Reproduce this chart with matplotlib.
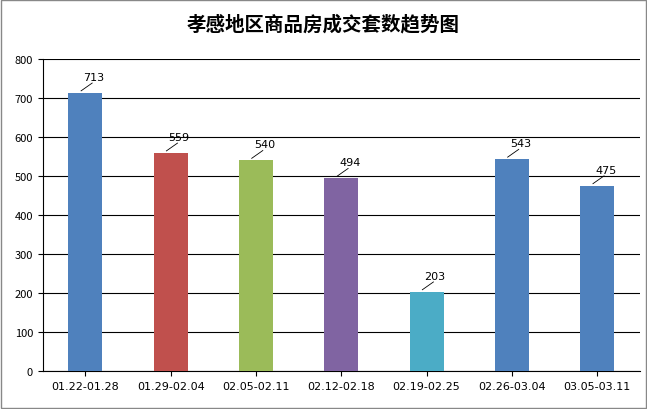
import matplotlib
matplotlib.use('Agg')
import matplotlib.pyplot as plt
from matplotlib.patches import Rectangle

plt.rcParams['font.family'] = ['Noto Sans CJK SC', 'DejaVu Sans']

categories = ['01.22-01.28', '01.29-02.04', '02.05-02.11', '02.12-02.18', '02.19-02.25', '02.26-03.04', '03.05-03.11']
values = [713, 559, 540, 494, 203, 543, 475]
colors = ['#4F81BD', '#C0504D', '#9BBB59', '#8064A2', '#4BACC6', '#4F81BD', '#4F81BD']

fig = plt.figure(figsize=(6.47, 4.10), dpi=100)
fig.patches.append(Rectangle((0.002, 0.002), 0.996, 0.996, transform=fig.transFigure,
                             fill=False, edgecolor='#888888', linewidth=1))
ax = fig.add_axes([0.066, 0.093, 0.923, 0.761])
x = range(len(categories))
ax.bar(x, values, width=0.4, color=colors, zorder=3)
for i, v in zip(x, values):
    ax.plot([i - 0.05, i + 0.08], [v + 5, v + 25], color='black', lw=0.6, zorder=4)
    ax.text(i + 0.1, v + 28, str(v), ha='center', va='bottom', fontsize=8, family='DejaVu Sans')
ax.set_ylim(0, 800)
ax.set_xlim(-0.5, len(categories) - 0.5)
ax.set_yticks(range(0, 801, 100))
ax.yaxis.grid(True, color='black', linewidth=0.8, zorder=0)
ax.set_xticks(list(x))
ax.set_xticklabels(categories, fontsize=8, family='DejaVu Sans')
ax.tick_params(axis='y', labelsize=8)
for s in ['top', 'right']:
    ax.spines[s].set_visible(False)
ax.set_axisbelow(True)
fig.suptitle('孝感地区商品房成交套数趋势图', fontsize=14, fontweight='bold', y=0.965)
fig.savefig('out.png', dpi=100)
